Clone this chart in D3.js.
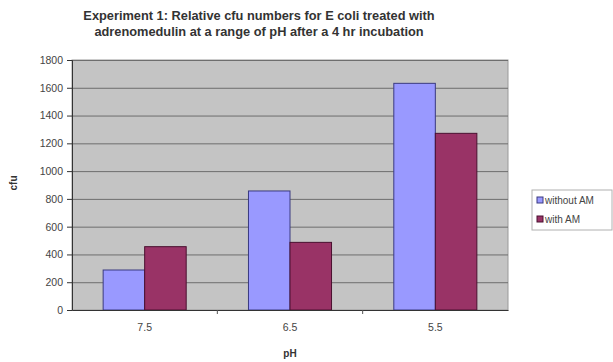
<!DOCTYPE html>
<html>
<head>
<meta charset="utf-8">
<script src="https://cdn.jsdelivr.net/npm/d3@7"></script>
<style>
  html, body { margin: 0; padding: 0; background: #fff; }
  svg { display: block; font-family: "Liberation Sans", Arial, sans-serif; }
</style>
</head>
<body>
<svg id="chart" width="613" height="362"></svg>
<script>
// pH levels tested and cfu counts after a 4 hr incubation
const categories = ["7.5", "6.5", "5.5"];
const seriesNames = ["without AM", "with AM"];
const withoutAM = [288, 857, 1632];
const withAM = [456, 487, 1272];
const yTicks = [0, 200, 400, 600, 800, 1000, 1200, 1400, 1600, 1800];
const titleLines = [
  "Experiment 1: Relative cfu numbers for E coli treated with",
  "adrenomedulin at a range of pH after a 4 hr incubation"
];

const colors = ["#9999ff", "#993366"];
const strokes = ["#3a3a80", "#4a1030"];

const svg = d3.select("#chart");
const plot = { left: 72, right: 508, top: 60, bottom: 310 };

const x = d3.scaleBand().domain(categories).range([plot.left, plot.right]);
const y = d3.scaleLinear().domain([0, 1800]).range([plot.bottom, plot.top]);

// Plot area background
svg.append("rect")
  .attr("x", plot.left).attr("y", plot.top)
  .attr("width", plot.right - plot.left).attr("height", plot.bottom - plot.top)
  .attr("fill", "#c4c4c4")
  .attr("stroke", "#9a9a9a").attr("stroke-width", 1);

// Horizontal gridlines
svg.append("g").selectAll("line")
  .data(yTicks.filter(d => d > 0))
  .join("line")
  .attr("x1", plot.left).attr("x2", plot.right)
  .attr("y1", d => y(d) + 0.5).attr("y2", d => y(d) + 0.5)
  .attr("stroke", "#6e6e6e").attr("stroke-width", 1);

// Bars: two per category, gap between groups of 1.5 bar widths
const xInner = d3.scaleBand().domain(seriesNames)
  .range([0, x.bandwidth()]).paddingOuter(0.75).paddingInner(0);
const seriesData = [withoutAM, withAM];

const groups = svg.append("g").selectAll("g")
  .data(categories)
  .join("g")
  .attr("transform", d => `translate(${x(d)},0)`);

groups.selectAll("rect")
  .data((c, i) => seriesNames.map((s, j) => ({ s, j, v: seriesData[j][i] })))
  .join("rect")
  .attr("x", d => xInner(d.s))
  .attr("y", d => y(d.v))
  .attr("width", xInner.bandwidth())
  .attr("height", d => y(0) - y(d.v))
  .attr("fill", d => colors[d.j])
  .attr("stroke", d => strokes[d.j])
  .attr("stroke-width", 1);

// Y axis
const yAxis = d3.axisLeft(y).tickValues(yTicks).tickFormat(d3.format("d")).tickSize(5).tickPadding(4);
const yg = svg.append("g").attr("transform", `translate(${plot.left},0)`).call(yAxis);
yg.select(".domain").attr("stroke", "#333");
yg.selectAll(".tick line").attr("stroke", "#333");
yg.selectAll(".tick text").attr("font-size", 10.5).attr("fill", "#444")
  .attr("font-family", "'Liberation Sans', Arial, sans-serif");

// X axis
const xAxis = d3.axisBottom(x).tickSize(0).tickPadding(14);
const xg = svg.append("g").attr("transform", `translate(0,${plot.bottom})`).call(xAxis);
xg.select(".domain").attr("stroke", "#333");
xg.selectAll(".tick text").attr("font-size", 10.5).attr("fill", "#444")
  .attr("font-family", "'Liberation Sans', Arial, sans-serif");
// category divider marks
svg.append("g").selectAll("line")
  .data(categories.slice(1))
  .join("line")
  .attr("x1", d => x(d)).attr("x2", d => x(d))
  .attr("y1", plot.bottom).attr("y2", plot.bottom + 4)
  .attr("stroke", "#555");

// Title
svg.append("g").selectAll("text")
  .data(titleLines)
  .join("text")
  .attr("x", 259).attr("y", (d, i) => 20 + i * 16)
  .attr("text-anchor", "middle")
  .attr("font-size", 12.8).attr("font-weight", "bold").attr("fill", "#333")
  .text(d => d);

// Axis titles
svg.append("text")
  .attr("transform", "translate(17,183) rotate(-90)")
  .attr("text-anchor", "middle")
  .attr("font-size", 10).attr("font-weight", "bold").attr("fill", "#333")
  .text("cfu");
svg.append("text")
  .attr("x", 290).attr("y", 357)
  .attr("text-anchor", "middle")
  .attr("font-size", 10).attr("font-weight", "bold").attr("fill", "#333")
  .text("pH");

// Legend
const lg = svg.append("g").attr("transform", "translate(532,190)");
lg.append("rect").attr("width", 80).attr("height", 40)
  .attr("fill", "#fff").attr("stroke", "#b0b0b0").attr("stroke-width", 1);
const items = lg.selectAll("g.item")
  .data(seriesNames)
  .join("g").attr("class", "item")
  .attr("transform", (d, i) => `translate(5,${10 + i * 19})`);
items.append("rect")
  .attr("x", 0).attr("y", -3).attr("width", 6).attr("height", 6)
  .attr("fill", (d, i) => colors[i]).attr("stroke", (d, i) => strokes[i]);
items.append("text")
  .attr("x", 8).attr("y", 3.5)
  .attr("font-size", 10).attr("fill", "#444")
  .text(d => d);
</script>
</body>
</html>
